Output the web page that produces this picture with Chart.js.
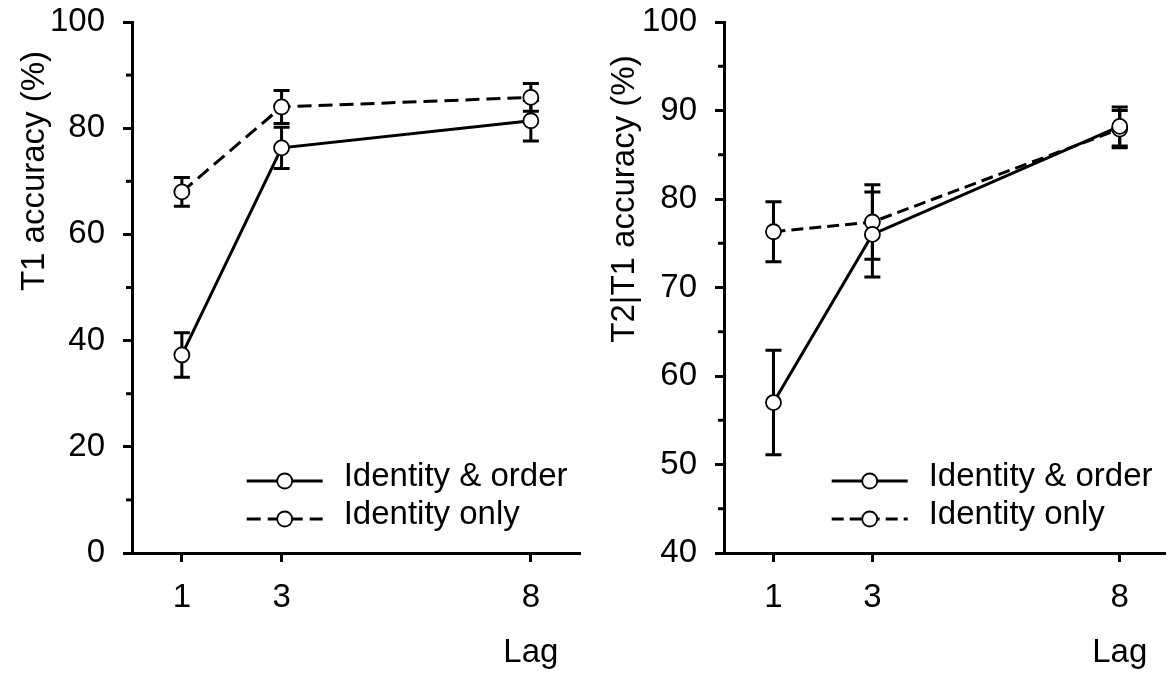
<!DOCTYPE html>
<html>
<head>
<meta charset="utf-8">
<script src="https://cdn.jsdelivr.net/npm/chart.js@4.4.1/dist/chart.umd.min.js"></script>
<style>
  html, body { margin: 0; padding: 0; background: #fff; }
  #wrap { position: relative; width: 1175px; height: 676px; overflow: hidden; }
  canvas { position: absolute; top: 0; }
  #leftChart { left: 0; }
  #rightChart { left: 590px; }
</style>
</head>
<body>
<div id="wrap">
  <canvas id="leftChart" width="590" height="676"></canvas>
  <canvas id="rightChart" width="585" height="676"></canvas>
</div>
<script>
const lags = [1, 3, 8];
const seriesNames = ["Identity & order", "Identity only"];

// T1 accuracy (%)
const t1IdentityOrder = [37.3, 76.3, 81.4];
const t1IdentityOrderErr = [4.2, 3.9, 3.8];
const t1IdentityOnly = [68.0, 84.0, 85.8];
const t1IdentityOnlyErr = [2.7, 3.1, 2.6];

// T2|T1 accuracy (%)
const t2IdentityOrder = [57.0, 76.0, 88.2];
const t2IdentityOrderErr = [5.9, 4.8, 2.2];
const t2IdentityOnly = [76.3, 77.4, 87.9];
const t2IdentityOnlyErr = [3.4, 4.2, 2.1];

const leftMinorTicks = [10, 30, 50, 70, 90];
const rightMinorTicks = [45, 55, 65, 75, 85, 95];

const FONT = "'Liberation Sans', Arial, Helvetica, sans-serif";
const FONT_SIZE = 33;

// error bars go under the lines and the white markers
const errorBarPlugin = {
  id: "errorBars",
  beforeDatasetsDraw(chart) {
    const ctx = chart.ctx;
    const xs = chart.scales.x;
    const ys = chart.scales.y;
    ctx.save();
    ctx.strokeStyle = "#000";
    ctx.lineWidth = 3;
    chart.data.datasets.forEach((ds) => {
      ds.data.forEach((pt, i) => {
        const e = ds.errors[i];
        const x = xs.getPixelForValue(pt.x);
        const yTop = ys.getPixelForValue(pt.y + e);
        const yBot = ys.getPixelForValue(pt.y - e);
        ctx.beginPath();
        ctx.moveTo(x, yTop);
        ctx.lineTo(x, yBot);
        ctx.moveTo(x - 8, yTop);
        ctx.lineTo(x + 8, yTop);
        ctx.moveTo(x - 8, yBot);
        ctx.lineTo(x + 8, yBot);
        ctx.stroke();
      });
    });
    ctx.restore();
  },
};

// minor ticks, axis titles and the in-plot legend
const decorPlugin = {
  id: "decor",
  afterDraw(chart, args, opts) {
    const { ctx, chartArea } = chart;
    const xs = chart.scales.x;
    const ys = chart.scales.y;
    ctx.save();
    ctx.strokeStyle = "#000";
    ctx.lineWidth = 3;
    opts.minorTicks.forEach((v) => {
      const y = ys.getPixelForValue(v);
      ctx.beginPath();
      ctx.moveTo(chartArea.left - 6, y);
      ctx.lineTo(chartArea.left, y);
      ctx.stroke();
    });

    ctx.fillStyle = "#000";
    ctx.font = FONT_SIZE + "px " + FONT;

    // y title
    ctx.save();
    ctx.translate(opts.yTitleX, opts.yTitleY);
    ctx.rotate(-Math.PI / 2);
    ctx.textAlign = "center";
    ctx.textBaseline = "middle";
    ctx.fillText(opts.yTitle, 0, 0);
    ctx.restore();

    // x title under the last lag
    ctx.textAlign = "center";
    ctx.textBaseline = "middle";
    ctx.fillText("Lag", xs.getPixelForValue(lags[lags.length - 1]), 653);

    // legend
    chart.data.datasets.forEach((ds, i) => {
      const y = chartArea.bottom - 72 + i * 38;
      const x0 = chartArea.right - 334;
      const x1 = chartArea.right - 258;
      ctx.save();
      ctx.lineWidth = 3;
      ctx.setLineDash(ds.borderDash || []);
      ctx.beginPath();
      ctx.moveTo(x0, y);
      ctx.lineTo(x1, y);
      ctx.stroke();
      ctx.setLineDash([]);
      ctx.beginPath();
      ctx.arc((x0 + x1) / 2, y, 7.5, 0, Math.PI * 2);
      ctx.fillStyle = "#fff";
      ctx.fill();
      ctx.lineWidth = 1.8;
      ctx.stroke();
      ctx.restore();
      ctx.textAlign = "left";
      ctx.textBaseline = "alphabetic";
      ctx.fillText(ds.label, chartArea.right - 237, y + 5);
    });
    ctx.restore();
  },
};

function buildDatasets(orderVals, orderErr, onlyVals, onlyErr, dash) {
  const common = {
    borderColor: "#000",
    borderWidth: 3,
    pointRadius: 7.5,
    pointBorderWidth: 1.8,
    pointBackgroundColor: "#fff",
    pointBorderColor: "#000",
    fill: false,
    tension: 0,
  };
  return [
    Object.assign({}, common, {
      label: seriesNames[0],
      data: lags.map((x, i) => ({ x: x, y: orderVals[i] })),
      errors: orderErr,
      borderDash: [],
    }),
    Object.assign({}, common, {
      label: seriesNames[1],
      data: lags.map((x, i) => ({ x: x, y: onlyVals[i] })),
      errors: onlyErr,
      borderDash: dash,
    }),
  ];
}

function makeChart(canvasId, cfg) {
  const axisGrid = {
    drawOnChartArea: false,
    tickLength: 9,
    tickWidth: 3,
    tickColor: "#000",
    color: "#000",
  };
  const axisBorder = { display: true, width: 3, color: "#000" };
  const tickFont = { family: FONT, size: FONT_SIZE };
  return new Chart(document.getElementById(canvasId), {
    type: "line",
    data: { datasets: cfg.datasets },
    options: {
      responsive: false,
      animation: false,
      devicePixelRatio: 1,
      events: [],
      layout: { padding: { top: 22, right: cfg.padRight, left: 0, bottom: 0 } },
      plugins: {
        legend: { display: false },
        tooltip: { enabled: false },
        decor: {
          minorTicks: cfg.minorTicks,
          yTitle: cfg.yTitle,
          yTitleX: 35,
          yTitleY: cfg.yTitleY,
        },
      },
      scales: {
        x: {
          type: "linear",
          min: 0,
          max: cfg.xMax,
          afterBuildTicks: (scale) => {
            scale.ticks = lags.map((v) => ({ value: v }));
          },
          afterFit: (scale) => {
            scale.height = 123;
            scale.paddingLeft = 0;
            scale.paddingRight = 0;
          },
          grid: axisGrid,
          border: axisBorder,
          ticks: { color: "#000", font: tickFont, padding: 16, maxRotation: 0 },
        },
        y: {
          type: "linear",
          min: cfg.yMin,
          max: 100,
          afterFit: (scale) => {
            scale.width = cfg.yWidth;
            scale.paddingTop = 0;
            scale.paddingBottom = 0;
          },
          grid: axisGrid,
          border: axisBorder,
          ticks: { color: "#000", font: tickFont, padding: 18, stepSize: cfg.yStep },
        },
      },
    },
    plugins: [errorBarPlugin, decorPlugin],
  });
}

makeChart("leftChart", {
  datasets: buildDatasets(t1IdentityOrder, t1IdentityOrderErr, t1IdentityOnly, t1IdentityOnlyErr, [14, 7]),
  minorTicks: leftMinorTicks,
  yTitle: "T1 accuracy (%)",
  yTitleY: 171,
  yMin: 0,
  yStep: 20,
  yWidth: 132,
  xMax: 9,
  padRight: 3,
});

makeChart("rightChart", {
  datasets: buildDatasets(t2IdentityOrder, t2IdentityOrderErr, t2IdentityOnly, t2IdentityOnlyErr, [12, 6]),
  minorTicks: rightMinorTicks,
  yTitle: "T2|T1 accuracy (%)",
  yTitleY: 199,
  yMin: 40,
  yStep: 10,
  yWidth: 134,
  xMax: 8.93,
  padRight: 0,
});
</script>
</body>
</html>
